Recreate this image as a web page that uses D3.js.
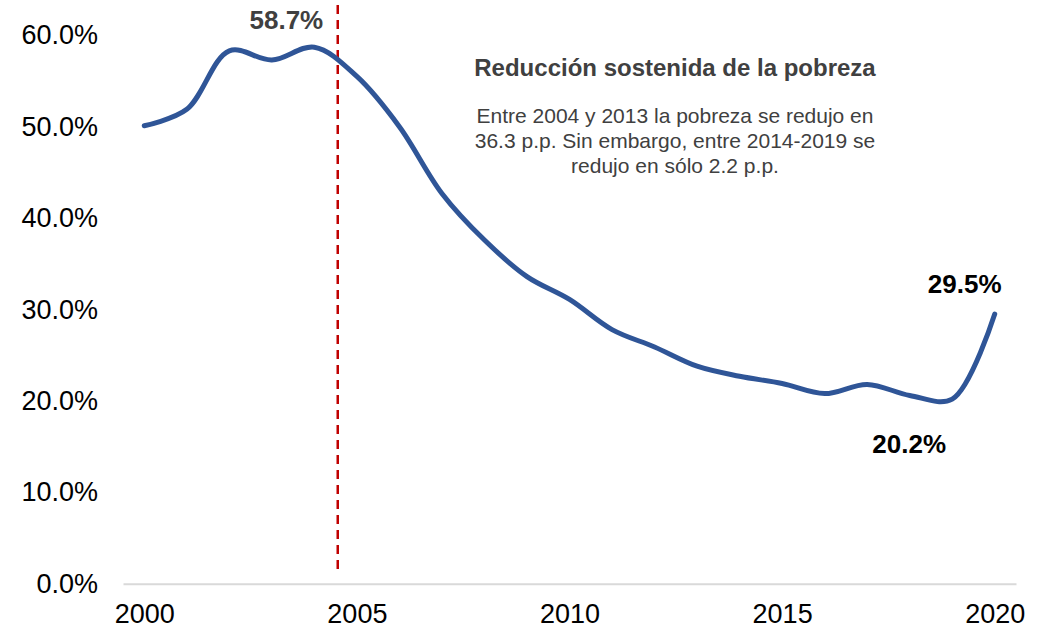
<!DOCTYPE html>
<meta charset="utf-8">
<script src="https://d3js.org/d3.v7.min.js"></script>
<style>
    body {
        margin: 0;
        padding: 0;
        background: #fff;
    }
    svg text {
        font-family: 'Liberation Sans', Arial, sans-serif;
    }
</style>
<body>
    <svg width="1045" height="627"></svg>
    <script>
        // datos: tasa de pobreza anual (%)
        var years = [2000, 2001, 2002, 2003, 2004, 2005, 2006, 2007, 2008, 2009, 2010,
            2011, 2012, 2013, 2014, 2015, 2016, 2017, 2018, 2019, 2020];
        var pobreza = [50.1, 51.9, 58.3, 57.3, 58.7, 55.5, 50.0, 42.7, 37.6, 33.6, 31.1,
            27.8, 25.9, 23.8, 22.7, 21.9, 20.8, 21.8, 20.6, 20.2, 29.5];
        var yTicks = [0, 10, 20, 30, 40, 50, 60];
        var xTicks = [2000, 2005, 2010, 2015, 2020];
        // anotaciones sobre la linea
        var labels = [
            { year: 2004, value: 58.7, text: "58.7%", dx: -28, dy: -18, color: "#404040" },
            { year: 2020, value: 29.5, text: "29.5%", dx: -30, dy: -21, color: "#000" },
            { year: 2019, value: 20.2, text: "20.2%", dx: -43, dy: 54, color: "#000" }
        ];
        var markYear = 2004.55;
        var title = "Reducción sostenida de la pobreza";
        var note = ["Entre 2004 y 2013 la pobreza se redujo en",
            "36.3 p.p. Sin embargo, entre 2014-2019 se",
            "redujo en sólo 2.2 p.p."];

        var svg = d3.select("svg");

        var x = d3.scaleLinear().domain([1999.5, 2020.5]).range([123, 1016]);
        var y = d3.scaleLinear().domain([0, 60]).range([583.7, 35.3]);

        // eje x (linea gris + años)
        var xAxis = svg.append("g")
            .attr("transform", "translate(0," + y(0) + ")")
            .call(d3.axisBottom(x).tickValues(xTicks).tickSize(0).tickPadding(20)
                .tickFormat(d3.format("d")));
        xAxis.select(".domain").attr("stroke", "#d9d9d9").attr("stroke-width", 2);
        xAxis.selectAll("text").attr("font-size", 27).attr("fill", "#000");

        // eje y sin linea
        var yAxis = svg.append("g")
            .attr("transform", "translate(108,0)")
            .call(d3.axisLeft(y).tickValues(yTicks).tickSize(0).tickPadding(10)
                .tickFormat(function (d) { return d.toFixed(1) + "%"; }));
        yAxis.select(".domain").remove();
        yAxis.selectAll("text").attr("font-size", 27).attr("fill", "#000");

        // linea punteada roja
        svg.append("line")
            .attr("x1", x(markYear)).attr("x2", x(markYear))
            .attr("y1", 5).attr("y2", 573)
            .attr("stroke", "#C00000")
            .attr("stroke-width", 2.5)
            .attr("stroke-dasharray", "9,6");

        // serie
        var line = d3.line()
            .x(function (d, i) { return x(years[i]); })
            .y(function (d) { return y(d); })
            .curve(d3.curveCatmullRom.alpha(0.5));

        svg.append("path")
            .datum(pobreza)
            .attr("d", line)
            .attr("fill", "none")
            .attr("stroke", "#2F5597")
            .attr("stroke-width", 5)
            .attr("stroke-linecap", "round");

        // etiquetas de datos
        svg.selectAll(".lbl")
            .data(labels)
            .enter()
            .append("text")
            .attr("class", "lbl")
            .attr("x", function (d) { return x(d.year) + d.dx; })
            .attr("y", function (d) { return y(d.value) + d.dy; })
            .attr("text-anchor", "middle")
            .attr("font-size", 26)
            .attr("font-weight", "bold")
            .attr("fill", function (d) { return d.color; })
            .text(function (d) { return d.text; });

        // cuadro de texto
        svg.append("text")
            .attr("x", 675).attr("y", 76)
            .attr("text-anchor", "middle")
            .attr("font-size", 24)
            .attr("font-weight", "bold")
            .attr("fill", "#404040")
            .text(title);

        svg.selectAll(".note")
            .data(note)
            .enter()
            .append("text")
            .attr("class", "note")
            .attr("x", 675)
            .attr("y", function (d, i) { return 123 + i * 25; })
            .attr("text-anchor", "middle")
            .attr("font-size", 21)
            .attr("fill", "#404040")
            .text(function (d) { return d; });
    </script>
</body>
